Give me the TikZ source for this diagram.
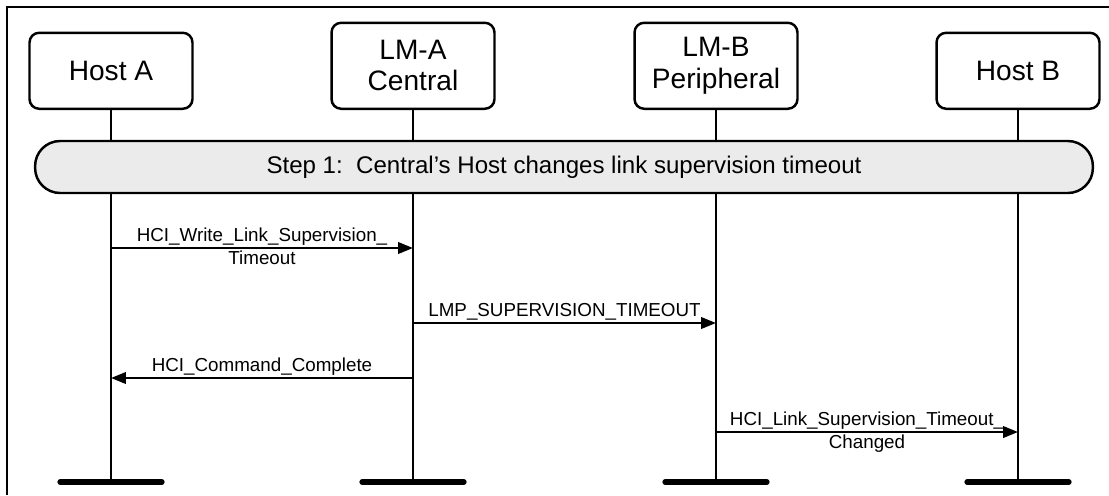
\documentclass[tikz,border=0pt]{standalone}
\usepackage{fontspec}
\setmainfont{Liberation Sans}
\usetikzlibrary{arrows.meta, positioning, calc}

\begin{document}
\begin{tikzpicture}[x=0.02cm, y=-0.02cm,
    entity/.style={rectangle, draw, line width=1.4pt, rounded corners=5.5pt, minimum width=3.26cm, align=center, font=\fontsize{16}{17.8}\selectfont, anchor=south},
    stepband/.style={rectangle, draw, fill=black!8, line width=1.4pt, rounded corners=0.5cm, minimum width=21.16cm, minimum height=1.04cm, font=\fontsize{13.7}{15}\selectfont},
    life/.style={line width=1.4pt},
    bar/.style={line width=3pt, line cap=round},
    msg/.style={-{Triangle[length=8.5pt, width=6.5pt]}, line width=1.4pt},
    lbl/.style={font=\fontsize{10.7}{12}\selectfont, inner sep=1pt}]

    \useasboundingbox (0,0) rectangle (1109,495);
    \draw[line width=1.4pt] (7,495) -- (7,7) -- (1109,7);

    \node (hostA) [entity, minimum height=1.52cm] at (111,110) {Host A};
    \node (lmA) [entity, minimum height=1.72cm] at (413,110) {LM-A\\Central};
    \node (lmB) [entity, minimum height=1.72cm] at (716,110) {LM-B\\Peripheral};
    \node (hostB) [entity, minimum height=1.52cm] at (1018,110) {Host B};

    \coordinate (bot) at (0,482);
    \foreach \n in {hostA, lmA, lmB, hostB} {
        \draw[life] (\n.south) -- (\n.south |- bot);
        \draw[bar] ([xshift=-1.02cm]\n.south |- bot) -- ([xshift=1.02cm]\n.south |- bot);
    }

    \node (step1) [stepband] at (564,167) {Step 1:\ \ Central's Host changes link supervision timeout};

    \coordinate (m1) at (0,248);
    \coordinate (m2) at (0,323);
    \coordinate (m3) at (0,378);
    \coordinate (m4) at (0,432);

    \draw[msg] (hostA.south |- m1) -- node[lbl, above] {HCI\_Write\_Link\_Supervision\_} node[lbl, below] {Timeout} (lmA.south |- m1);
    \draw[msg] (lmA.south |- m2) -- node[lbl, above] {LMP\_SUPERVISION\_TIMEOUT} (lmB.south |- m2);
    \draw[msg] (lmA.south |- m3) -- node[lbl, above] {HCI\_Command\_Complete} (hostA.south |- m3);
    \draw[msg] (lmB.south |- m4) -- node[lbl, above] {HCI\_Link\_Supervision\_Timeout\_} node[lbl, below] {Changed} (hostB.south |- m4);

\end{tikzpicture}
\end{document}
